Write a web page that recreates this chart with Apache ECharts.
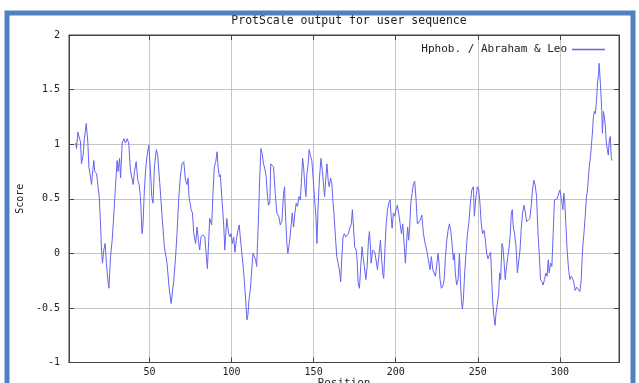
<!DOCTYPE html>
<html>
<head>
<meta charset="utf-8">
<script src="https://cdn.jsdelivr.net/npm/echarts@6/dist/echarts.min.js"></script>
<style>
html,body{margin:0;padding:0;background:#fff;}
#chart{width:639px;height:383px;}
</style>
</head>
<body>
<div id="chart"></div>
<script>
const titleText = 'ProtScale output for user sequence';
const seriesName = 'Hphob. / Abraham & Leo';
const xTicks = [50, 100, 150, 200, 250, 300];
const positions = [
5.0,5.6,6.4,7.4,8.0,8.6,9.6,10.3,11.5,12.5,13.1,14.1,14.7,15.5,16.1,16.7,17.8,18.6,19.4,20.2,20.8,21.4,22.2,23.0,23.8,24.6,25.3,26.3,27.3,28.3,29.3,30.3,30.9,31.8,32.4,33.4,34.4,35.4,36.4,37.4,38.4,39.5,40.1,40.9,41.9,42.9,43.7,44.5,45.5,46.1,46.9,47.8,48.6,49.6,50.6,51.4,52.2,53.0,54.2,55.0,56.3,57.7,59.1,60.7,61.9,63.2,
64.8,65.8,66.8,67.8,68.8,69.8,70.9,71.9,72.9,73.5,74.1,75.4,76.2,77.0,78.1,79.0,79.8,80.6,81.4,82.4,83.7,84.7,85.3,86.1,86.7,87.3,87.9,88.7,89.5,90.4,91.2,91.8,92.6,93.2,93.8,94.6,95.3,95.9,96.5,97.1,97.7,98.3,98.9,99.7,100.5,101.3,102.1,102.9,103.9,104.7,105.3,106.1,106.9,107.8,108.6,109.4,110.0,110.6,111.4,112.3,113.1,113.9,114.7,115.3,115.9,116.5,117.1,117.9,118.7,119.5,120.5,121.1,121.9,122.5,123.3,
123.9,124.6,125.6,126.6,127.6,128.7,129.7,130.7,131.7,132.3,132.9,133.7,134.3,135.2,136.2,137.0,137.8,138.6,139.4,140.2,141.1,141.9,142.7,143.3,143.9,144.7,145.3,145.9,146.7,147.3,148.1,148.9,149.8,150.6,151.4,152.0,152.8,153.6,154.5,155.3,156.1,156.7,157.3,158.1,158.9,159.5,160.3,161.1,161.7,162.5,163.3,164.1,164.9,165.7,166.5,167.1,167.9,168.7,169.5,170.4,171.2,172.2,173.0,173.6,174.2,175.0,175.9,176.5,177.1,177.9,178.7,179.5,180.1,180.9,181.8,182.6,183.4,184.0,184.6,
185.0,186.0,187.3,188.1,188.9,189.9,190.7,191.5,192.1,192.7,193.4,194.2,195.0,195.8,196.6,197.2,197.8,198.6,199.4,200.2,201.0,201.8,202.7,203.5,204.3,205.1,205.9,206.7,207.3,207.9,208.5,209.2,210.0,210.8,211.6,212.4,213.2,214.0,214.8,215.9,216.9,217.9,218.9,219.9,220.9,221.7,222.6,223.4,224.2,225.0,225.8,226.4,227.0,227.8,228.7,229.5,230.3,231.1,231.9,232.7,233.5,234.3,235.1,235.7,236.3,237.1,238.0,238.8,239.4,240.0,240.6,241.2,242.0,242.8,243.7,244.5,245.3,
246.3,247.3,247.9,248.7,249.7,250.5,251.3,252.1,252.9,253.8,254.6,255.4,256.2,257.0,257.8,258.4,259.0,259.8,260.5,261.1,261.9,262.7,263.3,263.9,264.7,265.3,265.9,266.7,267.5,268.3,269.1,269.8,270.4,271.0,271.6,272.4,273.3,274.1,274.9,275.7,276.5,277.3,278.1,278.9,279.7,280.7,281.7,282.5,283.3,284.1,284.9,285.8,286.6,287.4,288.2,289.0,289.8,290.6,291.4,292.2,292.9,293.5,294.3,295.1,295.9,296.7,297.5,298.3,299.3,
300.0,301.0,301.8,302.4,303.0,303.6,304.4,305.3,306.1,306.9,307.7,308.5,309.3,310.2,311.2,312.2,313.0,313.6,314.2,314.8,315.4,316.2,316.8,317.4,318.0,318.6,319.2,319.8,320.4,321.0,321.6,322.3,322.9,323.5,323.9,324.3,324.9,325.5,325.9,326.5,327.1,327.7,328.3,328.9,329.5,330.1,330.7,331.3,331.7
];
const scores = [
1.01,0.96,1.11,1.11,1.02,0.82,0.90,1.04,1.19,1.01,0.79,0.70,0.63,0.76,0.85,0.75,0.73,0.72,0.52,0.27,0.03,-0.09,0.03,0.09,-0.09,-0.24,-0.32,-0.03,0.12,0.36,0.61,0.85,0.75,0.87,0.69,1.01,1.05,1.01,1.05,1.01,0.76,0.75,0.63,0.75,0.84,0.67,0.63,0.52,0.18,0.27,0.58,0.79,0.90,0.99,0.76,0.52,0.46,0.79,0.95,0.90,0.64,0.34,0.06,-0.09,-0.30,-0.46,
-0.25,-0.06,0.18,0.49,0.70,0.82,0.84,0.67,0.63,0.69,0.52,0.40,0.37,0.18,0.09,0.24,0.12,0.03,0.15,0.17,0.15,-0.03,-0.14,0.12,0.32,0.33,0.26,0.55,0.79,0.84,0.93,0.79,0.70,0.72,0.58,0.40,0.24,0.03,0.18,0.32,0.24,0.18,0.15,0.18,0.09,0.15,0.01,0.12,0.21,0.26,0.15,0.03,-0.09,-0.25,-0.43,-0.61,-0.56,-0.43,-0.34,-0.15,0.00,0.01,-0.06,-0.12,0.12,0.37,0.67,0.96,0.91,0.82,0.76,0.70,0.52,0.44,0.46,
0.82,0.82,0.79,0.55,0.37,0.34,0.26,0.30,0.55,0.61,0.34,0.09,0.00,0.09,0.24,0.37,0.24,0.37,0.46,0.43,0.52,0.49,0.70,0.87,0.79,0.61,0.52,0.73,0.82,0.95,0.89,0.85,0.67,0.49,0.34,0.09,0.46,0.70,0.87,0.76,0.61,0.52,0.67,0.82,0.66,0.61,0.69,0.64,0.49,0.34,0.15,-0.03,-0.09,-0.15,-0.26,-0.06,0.15,0.18,0.15,0.14,0.18,0.24,0.27,0.40,0.27,0.06,0.03,-0.06,-0.27,-0.32,-0.12,0.06,-0.03,-0.12,-0.24,-0.12,0.12,0.20,0.06,
-0.09,0.03,0.01,0.00,-0.15,0.00,0.12,-0.06,-0.18,-0.23,0.03,0.27,0.40,0.46,0.49,0.34,0.23,0.37,0.34,0.40,0.44,0.37,0.27,0.18,0.27,0.09,-0.09,0.12,0.24,0.12,0.24,0.46,0.55,0.64,0.66,0.49,0.27,0.26,0.30,0.35,0.18,0.09,0.03,-0.06,-0.15,-0.03,-0.15,-0.15,-0.21,-0.21,0.00,-0.09,-0.24,-0.32,-0.30,-0.24,-0.03,0.12,0.21,0.27,0.21,0.09,-0.06,0.00,-0.18,-0.29,-0.24,0.00,-0.24,-0.43,-0.51,-0.43,-0.18,0.00,0.18,0.27,0.43,
0.58,0.61,0.34,0.49,0.61,0.59,0.46,0.27,0.18,0.21,0.12,0.00,-0.05,-0.06,0.01,-0.21,-0.43,-0.58,-0.66,-0.55,-0.56,-0.37,-0.18,-0.24,0.09,0.06,-0.06,-0.24,-0.12,-0.03,0.06,0.18,0.37,0.40,0.24,0.18,0.06,-0.18,-0.18,0.03,0.24,0.37,0.44,0.38,0.29,0.30,0.32,0.43,0.58,0.67,0.63,0.52,0.21,0.00,-0.24,-0.26,-0.29,-0.24,-0.18,-0.21,-0.06,-0.18,-0.09,-0.12,0.18,0.49,0.50,0.50,0.49,
0.58,0.49,0.40,0.55,0.46,0.28,0.03,-0.15,-0.24,-0.21,-0.23,-0.27,-0.34,-0.31,-0.32,-0.35,-0.24,-0.03,0.11,0.21,0.34,0.52,0.58,0.70,0.81,0.88,0.99,1.10,1.25,1.30,1.28,1.40,1.56,1.63,1.74,1.65,1.49,1.31,1.10,1.30,1.25,1.16,1.01,0.95,0.90,1.04,1.07,0.88,0.85
];

const mono = "'DejaVu Sans Mono', 'Liberation Mono', monospace";
const chart = echarts.init(document.getElementById('chart'), null, {renderer: 'canvas'});
const data = positions.map((p, i) => [p, scores[i]]);

const tickStyle = {show: true, inside: true, length: 5, lineStyle: {color: '#444', width: 1}};
chart.setOption({
  animation: false,
  backgroundColor: '#ffffff',
  title: {
    text: titleText, left: 344, top: 10, textAlign: 'center',
    textStyle: {fontFamily: mono, fontSize: 11.5, fontWeight: 'normal', color: '#222'}
  },
  legend: {
    data: [{name: seriesName, icon: 'rect'}], right: 29, top: 39, align: 'right',
    itemWidth: 33, itemHeight: 1.5,
    itemStyle: {color: '#6464f0', borderWidth: 0},
    textStyle: {fontFamily: mono, fontSize: 11, color: '#222'}
  },
  grid: {left: 69, right: 20, top: 35, bottom: 20.5, show: true, borderColor: '#444', borderWidth: 1,
         containLabel: false, outerBoundsMode: 'none'},
  xAxis: [{
    type: 'value', min: 1, max: 336, position: 'bottom',
    name: 'Position', nameLocation: 'middle', nameGap: 15, nameMoveOverlap: false,
    nameTextStyle: {fontFamily: mono, fontSize: 11, color: '#222', verticalAlign: 'top'},
    axisLine: {show: true, onZero: false, lineStyle: {color: '#444', width: 1}},
    axisTick: Object.assign({customValues: xTicks}, tickStyle),
    axisLabel: {customValues: xTicks, fontFamily: mono, fontSize: 10, color: '#222', margin: 5},
    splitLine: {show: true, lineStyle: {color: '#c4c4c4', width: 1}}
  }, {
    type: 'value', min: 1, max: 336, position: 'top',
    axisLine: {show: true, onZero: false, lineStyle: {color: '#444', width: 1}},
    axisTick: Object.assign({customValues: xTicks}, tickStyle),
    axisLabel: {show: false},
    splitLine: {show: false}
  }],
  yAxis: [{
    type: 'value', min: -1, max: 2, interval: 0.5, position: 'left',
    name: 'Score', nameLocation: 'middle', nameGap: 39, nameRotate: 90,
    nameTextStyle: {fontFamily: mono, fontSize: 10, color: '#222'},
    axisLine: {show: true, onZero: false, lineStyle: {color: '#444', width: 1}},
    axisTick: tickStyle,
    axisLabel: {fontFamily: mono, fontSize: 10, color: '#222', margin: 9},
    splitLine: {show: true, lineStyle: {color: '#c4c4c4', width: 1}}
  }, {
    type: 'value', min: -1, max: 2, interval: 0.5, position: 'right',
    axisLine: {show: true, onZero: false, lineStyle: {color: '#444', width: 1}},
    axisTick: tickStyle,
    axisLabel: {show: false},
    splitLine: {show: false}
  }],
  series: [{
    name: seriesName, type: 'line', data: data,
    xAxisIndex: 0, yAxisIndex: 0,
    symbol: 'none', showSymbol: false,
    lineStyle: {color: '#6464f0', width: 1},
    itemStyle: {color: '#6464f0'}
  }],
  graphic: [{
    type: 'rect', silent: true, z: 100,
    shape: {x: 7, y: 13, width: 626, height: 400},
    style: {fill: 'none', stroke: '#4f81bd', lineWidth: 5}
  }]
});
</script>
</body>
</html>
